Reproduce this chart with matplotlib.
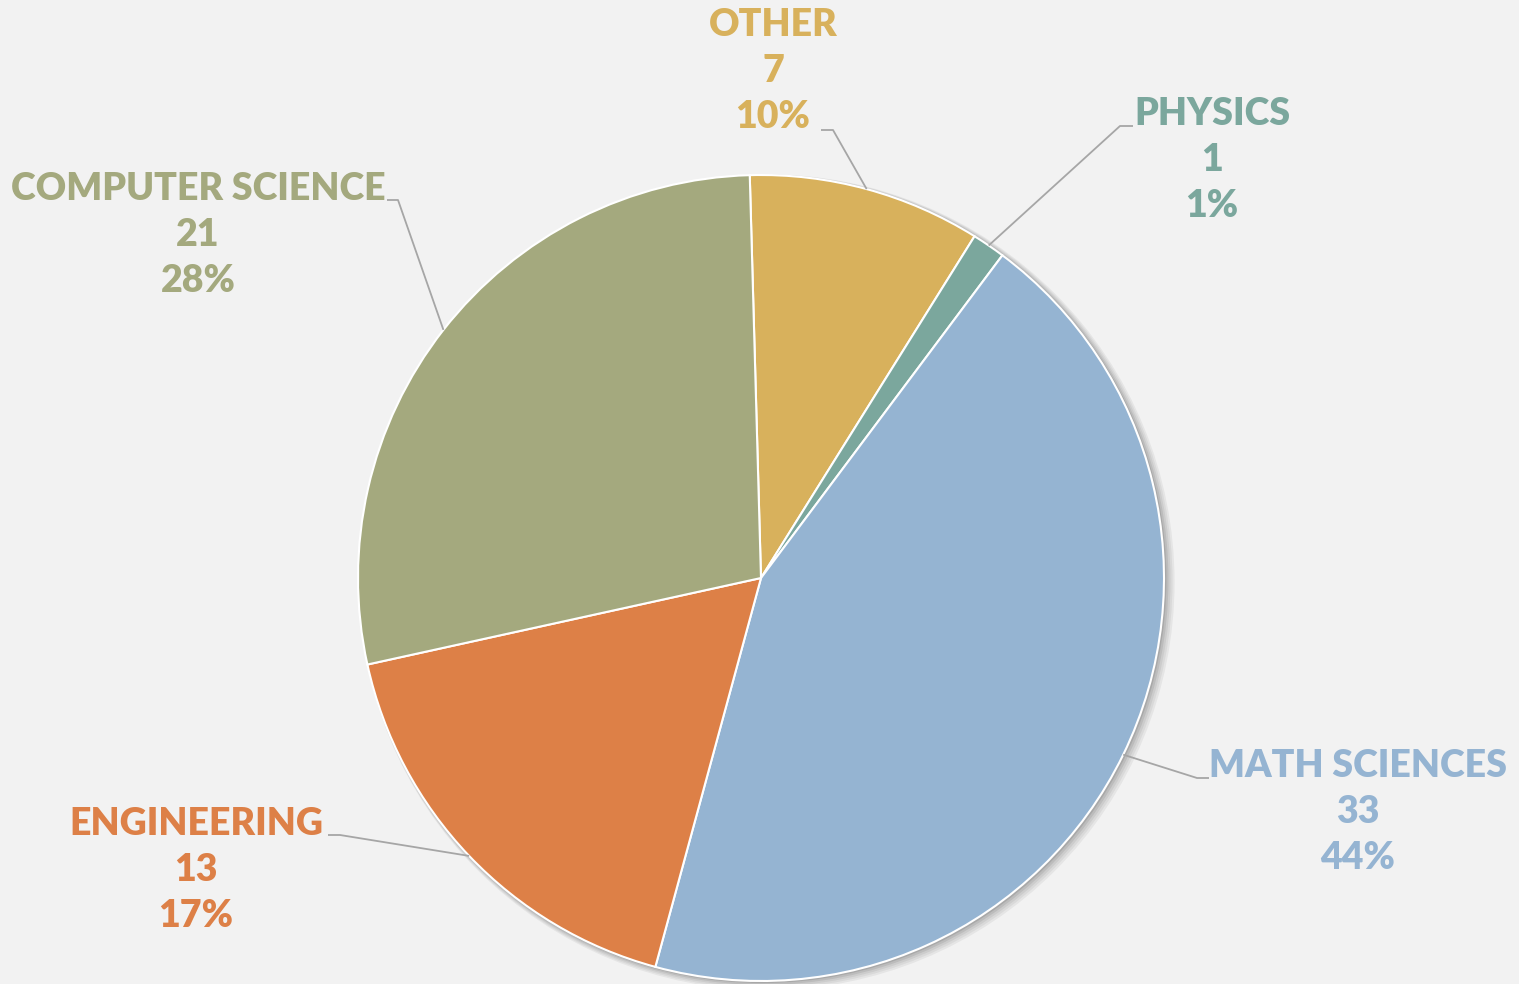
import matplotlib.pyplot as plt
import matplotlib.patches as mpatches
import numpy as np

categories = ['OTHER', 'PHYSICS', 'MATH SCIENCES', 'ENGINEERING', 'COMPUTER SCIENCE']
values = [7, 1, 33, 13, 21]
pct_labels = ['10%', '1%', '44%', '17%', '28%']
colors = ['#D8B15C', '#7BA79D', '#95B4D2', '#DD8047', '#A4A97E']

W, H = 1519, 984
bg = '#F2F2F2'
cx, cy, R = 761, H - 578, 403

# label centre (pixels, from top) and leader elbow / end (pixels, from top)
label_pos = [(773, 71), (1212, 160), (1358, 812), (196, 870), (198, 235)]
elbows = [((833, 130), (821, 130)), ((1120, 126), (1133, 126)),
          ((1197, 778), (1209, 778)), ((340, 835), (328, 835)),
          ((398, 200), (387, 200))]

fig = plt.figure(figsize=(W / 100, H / 100), dpi=100, facecolor=bg)
ax = fig.add_axes([0, 0, 1, 1])
ax.set_facecolor(bg)

# soft shadow
for i, a in enumerate([0.05, 0.05, 0.06, 0.08, 0.10]):
    off = 7 - i * 1.3
    ax.add_patch(mpatches.Circle((cx + off * 0.8, cy - off * 0.6), R + 1 + (4 - i) * 1.0,
                                 color='#000000', alpha=a, lw=0, zorder=1))

wedges, _ = ax.pie(values, colors=colors, startangle=91.6, counterclock=False,
                   center=(cx, cy), radius=R, frame=True,
                   wedgeprops=dict(edgecolor='white', linewidth=1.5, zorder=2))
ax.set_xlim(0, W)
ax.set_ylim(0, H)
ax.set_aspect('equal')
ax.axis('off')

plt.rcParams['font.family'] = ['Lato', 'DejaVu Sans']

for w, cat, v, p, col, (lx, ly), (elb, end) in zip(wedges, categories, values, pct_labels,
                                                   colors, label_pos, elbows):
    mid = np.deg2rad((w.theta1 + w.theta2) / 2)
    sx, sy = cx + R * np.cos(mid), cy + R * np.sin(mid)
    ax.plot([sx, elb[0], end[0]], [sy, H - elb[1], H - end[1]],
            color='#A6A6A6', lw=1.3, zorder=3, solid_capstyle='butt')
    ax.text(lx, H - ly, f'{cat}\n{v}\n{p}', ha='center', va='center',
            color=col, fontsize=27, fontweight='heavy', linespacing=1.43, zorder=4)

fig.savefig('out.png', dpi=100, facecolor=bg)
